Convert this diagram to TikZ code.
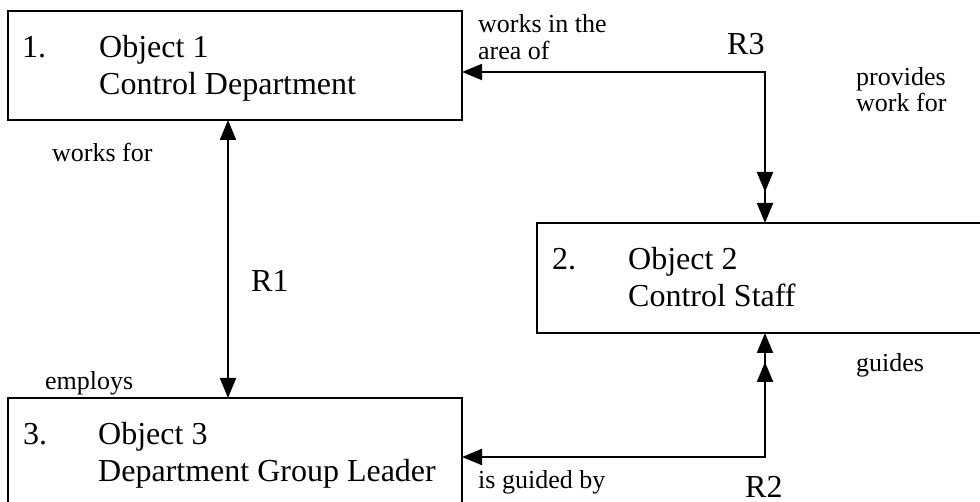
\documentclass[tikz,border=0pt]{standalone}
\usepackage{fontspec}
\setmainfont{Liberation Serif}
\usetikzlibrary{arrows.meta,calc}
\begin{document}
\begin{tikzpicture}[x=1pt,y=-1pt,
  objbox/.style={draw,line width=2pt,inner sep=0pt,outer sep=0pt,anchor=north west},
  big/.style={anchor=base west,inner sep=0pt,font=\fontsize{32}{36}\selectfont},
  small/.style={anchor=base west,inner sep=0pt,font=\fontsize{26}{28}\selectfont},
  conn/.style={line width=2pt},
  tipa/.tip={Triangle[length=20pt,width=16pt]}]
\useasboundingbox (0,0) rectangle (980,502);
% boxes
\node[objbox,minimum width=454pt,minimum height=109pt] (b1) at (8,11) {};
\node[objbox,minimum width=480pt,minimum height=110pt] (b2) at (537,223) {};
\node[objbox,minimum width=454pt,minimum height=130pt] (b3) at (8,398) {};
% box texts
\node[big] (t1a) at (22,58) {1.};
\node[big] (t1b) at (99,58) {Object 1};
\node[big] (t1c) at (99,95) {Control Department};
\node[big] (t2a) at (552,270) {2.};
\node[big] (t2b) at (628,270) {Object 2};
\node[big] (t2c) at (628,307) {Control Staff};
\node[big] (t3a) at (23,445) {3.};
\node[big] (t3b) at (98,445) {Object 3};
\node[big] (t3c) at (98,481) {Department Group Leader};
% connector corners
\coordinate (r1) at (228,0);
\coordinate (k3) at (765,72);
\coordinate (k2) at (765,457);
% R1
\draw[conn,tipa-tipa] (b1.south -| r1) -- (b3.north -| r1);
% R3
\draw[conn,tipa-tipa] (b1.east |- k3) -- (k3) -- (k3 |- b2.north);
\draw[conn,-tipa] (k3) -- ($(k3 |- b2.north)+(0,-31)$);
% R2
\draw[conn,tipa-tipa] (b3.east |- k2) -- (k2) -- (k2 |- b2.south);
\draw[conn,-tipa] (k2) -- ($(k2 |- b2.south)+(0,29)$);
% relation names
\node[big] (lr1) at (251,292) {R1};
\node[big] (lr3) at (727,55) {R3};
\node[big] (lr2) at (745,497) {R2};
% role labels
\node[small] (l1) at (478,33) {works in the};
\node[small] (l2) at (478,60) {area of};
\node[small] (l3) at (856,86) {provides};
\node[small] (l4) at (856,112) {work for};
\node[small] (l5) at (52,162) {works for};
\node[small] (l6) at (45,390) {employs};
\node[small] (l7) at (856,372) {guides};
\node[small] (l8) at (478,488) {is guided by};
\end{tikzpicture}
\end{document}
